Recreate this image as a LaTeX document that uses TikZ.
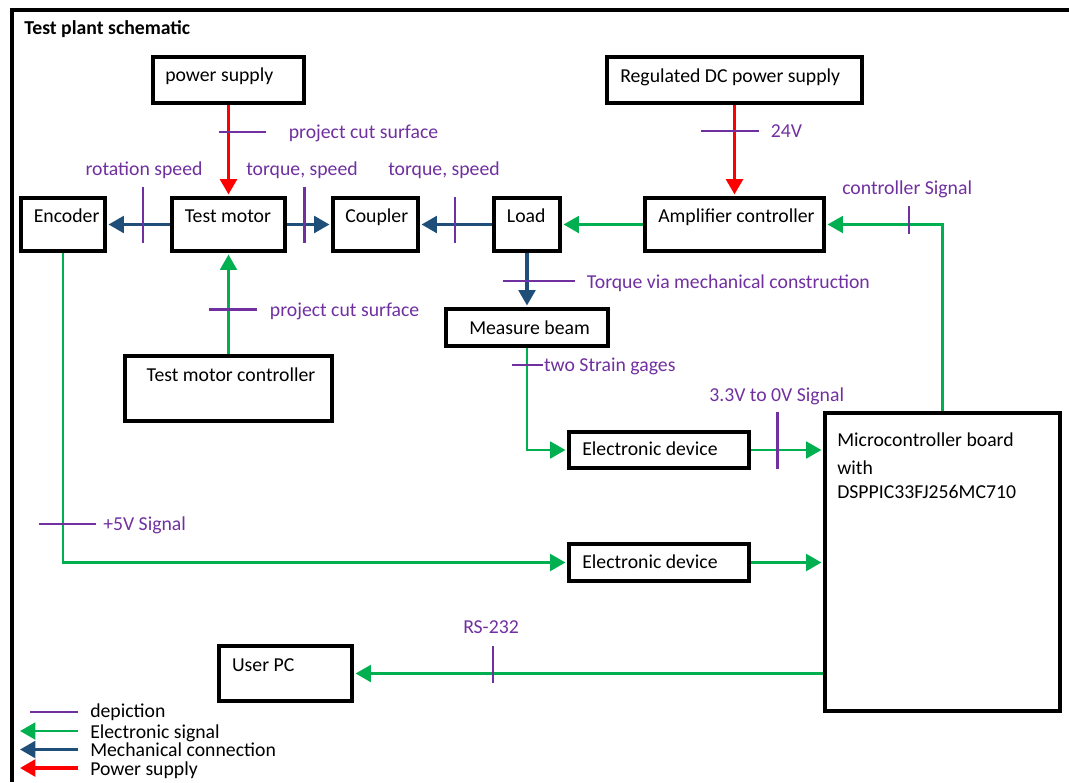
\documentclass[tikz,border=0pt]{standalone}
\usepackage{fontspec}
\setmainfont{Carlito}
\usetikzlibrary{arrows.meta,fit}
\definecolor{sgreen}{HTML}{00B050}
\definecolor{mblue}{HTML}{1F4E79}
\definecolor{pred}{HTML}{FF0000}
\definecolor{dpurple}{HTML}{7030A0}
\begin{document}
\begin{tikzpicture}[x=0.75pt,y=-0.75pt,
 box/.style={draw, line width=2.9pt, inner sep=0pt},
 txt/.style={font=\fontsize{14.8}{16}\selectfont, inner sep=0pt, text height=9.5pt, text depth=0pt, anchor=west},
 lbl/.style={txt, text=dpurple},
 tip/.style={-{Triangle[length=11.5pt,width=12.5pt]}, shorten >=1.2pt},
 sig/.style={tip, draw=sgreen, line width=2.2pt},
 mech/.style={tip, draw=mblue, line width=2.4pt},
 pow/.style={tip, draw=pred, line width=2.6pt},
 tick/.style={draw=dpurple, line width=1.8pt}
]
\useasboundingbox (0,0) rectangle (1069,782);
% frame
\draw[line width=3pt] (12,782) -- (12,10) -- (1069,10);
\node[txt, font={\fontsize{14.8}{16}\selectfont\bfseries}] (title) at (24,28) {Test plant schematic};

% boxes
\node[box, fit={(153,57) (304,103)}] (ps) {};
\node[box, fit={(607,57) (862,103)}] (rdc) {};
\node[box, fit={(21,198) (105,251)}] (enc) {};
\node[box, fit={(172,198) (285,251)}] (tm) {};
\node[box, fit={(333,198) (418,251)}] (cp) {};
\node[box, fit={(494,198) (560,251)}] (ld) {};
\node[box, fit={(645,198) (824,251)}] (amp) {};
\node[box, fit={(125,356) (332,421)}] (tmc) {};
\node[box, fit={(446,309) (608,346)}] (mb) {};
\node[box, fit={(569,432) (749,468)}] (ed1) {};
\node[box, fit={(569,544) (749,581)}] (ed2) {};
\node[box, fit={(825,413) (1060,711)}] (mc) {};
\node[box, fit={(219,646) (352,701)}] (upc) {};

% box texts
\node[txt] (t-ps) at (165,75.5) {power supply};
\node[txt] (t-rdc) at (620,76.5) {Regulated DC power supply};
\node[txt] (t-enc) at (33.5,216) {Encoder};
\node[txt] (t-tm) at (184.6,216) {Test motor};
\node[txt] (t-cp) at (345,216) {Coupler};
\node[txt] (t-ld) at (506.7,216) {Load};
\node[txt] (t-amp) at (658,216) {Amplifier controller};
\node[txt] (t-tmc) at (146.4,374.7) {Test motor controller};
\node[txt] (t-mb) at (469,328) {Measure beam};
\node[txt] (t-ed1) at (582,449.3) {Electronic device};
\node[txt] (t-ed2) at (582,562) {Electronic device};
\node[txt] (t-mc1) at (837,440) {Microcontroller board};
\node[txt] (t-mc2) at (837,468.3) {with};
\node[txt] (t-mc3) at (837,492.3) {DSPPIC33FJ256MC710};
\node[txt] (t-upc) at (231.8,664.7) {User PC};

% connectors
\draw[pow] (ps.south) -- (tm.north);
\draw[pow] (rdc.south) -- (amp.north);
\draw[mech] (tm.west) -- (enc.east);
\draw[mech] (tm.east) -- (cp.west);
\draw[mech] (ld.west) -- (cp.east);
\draw[sig] (amp.west) -- (ld.east);
\draw[sig] (mc.north) |- (amp.east);
\draw[mech] (ld.south) -- (mb.north);
\draw[sig] (mb.south) |- (ed1.west);
\draw[sig] (ed1.east) -- (ed1.east -| mc.west);
\draw[sig] (tmc.north) -- (tm.south);
\draw[sig] (enc.south) |- (ed2.west);
\draw[sig] (ed2.east) -- (ed2.east -| mc.west);
\draw[sig] (mc.west |- upc.east) -- (upc.east);

% depiction ticks
\draw[tick] (219,132) -- (266,132);
\draw[tick] (701,131) -- (758.6,131);
\draw[tick] (143,187) -- (143,243);
\draw[tick] (304.5,187) -- (304.5,243);
\draw[tick] (455,197) -- (455,243);
\draw[tick] (909,206) -- (909,234);
\draw[tick] (503,281) -- (574.7,281);
\draw[tick] (512,365) -- (543,365);
\draw[tick] (777.5,412) -- (777.5,469);
\draw[tick] (39,524) -- (96.4,524);
\draw[tick] (493,646) -- (493,683);
\draw[tick] (209.4,309.3) -- (257,309.3);

% labels
\node[lbl] (l-pcs1) at (288.6,132) {project cut surface};
\node[lbl] (l-24) at (770.7,131) {24V};
\node[lbl, anchor=center] (l-rot) at (144,168.7) {rotation speed};
\node[lbl, anchor=center] (l-ts1) at (302,168.7) {torque, speed};
\node[lbl, anchor=center] (l-ts2) at (444,168.7) {torque, speed};
\node[lbl] (l-cs) at (842,187.7) {controller Signal};
\node[lbl] (l-pcs2) at (269.7,309.7) {project cut surface};
\node[lbl] (l-tq) at (586.7,282) {Torque via mechanical construction};
\node[lbl] (l-sg) at (543.8,365.4) {two Strain gages};
\node[lbl] (l-33) at (709,394.7) {3.3V to 0V Signal};
\node[lbl] (l-5v) at (103,524.4) {+5V Signal};
\node[lbl] (l-rs) at (463,627) {RS-232};

% legend
\coordinate (lg0a) at (30,712); \coordinate (lg0b) at (78,712);
\coordinate (lg1a) at (78,731); \coordinate (lg1b) at (20,731);
\coordinate (lg2a) at (78,749.5); \coordinate (lg2b) at (20,749.5);
\coordinate (lg3a) at (78,768); \coordinate (lg3b) at (20,768);
\draw[tick] (lg0a) -- (lg0b);
\draw[sig, shorten >=0pt] (lg1a) -- (lg1b);
\draw[mech, shorten >=0pt] (lg2a) -- (lg2b);
\draw[pow, shorten >=0pt] (lg3a) -- (lg3b);
\node[txt] (lg-t0) at (90,711) {depiction};
\node[txt] (lg-t1) at (90,732) {Electronic signal};
\node[txt] (lg-t2) at (90,750.3) {Mechanical connection};
\node[txt] (lg-t3) at (90,768.7) {Power supply};
\end{tikzpicture}
\end{document}
